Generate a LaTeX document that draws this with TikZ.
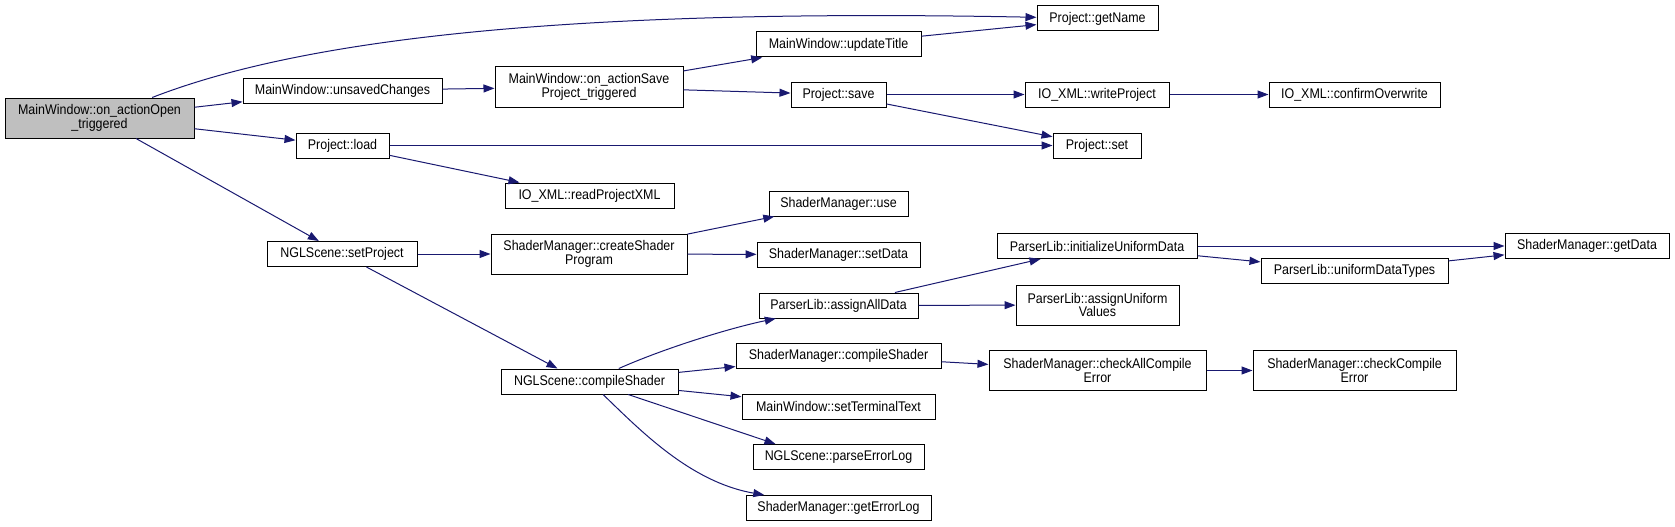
\documentclass[tikz,border=0pt]{standalone}
\usepackage{fontspec}
\setmainfont{Liberation Sans}[FakeStretch=0.89]
\usepackage{tikz}
\usetikzlibrary{arrows.meta}
\definecolor{edgeblue}{HTML}{191970}

\begin{document}
\begin{tikzpicture}[x=1pt, y=-1pt,
    fn/.style={draw=black, fill=white, line width=1pt, minimum height=25pt, inner sep=0pt,
        align=center, font=\fontsize{14}{13.5}\selectfont},
    fn2/.style={fn, minimum height=40pt},
    call/.style={draw=edgeblue, line width=1pt, -{Triangle[length=11pt, width=8pt]}}]
    \useasboundingbox (0,0) rectangle (1675,527);

    \node[fn2, fill=black!25, minimum width=189pt] (open) at (99.5,118) {MainWindow::on\_actionOpen\\\_triggered};
    \node[fn, minimum width=199pt] (unsaved) at (342.5,90.5) {MainWindow::unsavedChanges};
    \node[fn, minimum width=93pt] (load) at (342.5,145.5) {Project::load};
    \node[fn, minimum width=150pt] (setproject) at (342,254) {NGLScene::setProject};

    \node[fn2, minimum width=188pt] (saveproject) at (589,87) {MainWindow::on\_actionSave\\Project\_triggered};
    \node[fn, minimum width=169pt] (readxml) at (589.5,195.5) {IO\_XML::readProjectXML};
    \node[fn2, minimum width=196pt] (createshader) at (589,254) {ShaderManager::createShader\\Program};
    \node[fn, minimum width=177pt] (nglcompile) at (589.5,381.5) {NGLScene::compileShader};

    \node[fn, minimum width=165pt] (title) at (838.5,44.5) {MainWindow::updateTitle};
    \node[fn, minimum width=95pt] (save) at (838.5,94.5) {Project::save};
    \node[fn, minimum width=139pt] (use) at (838.5,203.5) {ShaderManager::use};
    \node[fn, minimum width=163pt] (setdata) at (838.5,254.5) {ShaderManager::setData};
    \node[fn, minimum width=159pt] (assignall) at (838.5,305.5) {ParserLib::assignAllData};
    \node[fn, minimum width=205pt] (smcompile) at (838.5,356) {ShaderManager::compileShader};
    \node[fn, minimum width=193pt] (terminal) at (838.5,406.5) {MainWindow::setTerminalText};
    \node[fn, minimum width=171pt] (parselog) at (838.5,457) {NGLScene::parseErrorLog};
    \node[fn, minimum width=185pt] (errorlog) at (838.5,508) {ShaderManager::getErrorLog};

    \node[fn, minimum width=121pt] (getname) at (1097.5,18.5) {Project::getName};
    \node[fn, minimum width=144pt] (writeproject) at (1097,94.5) {IO\_XML::writeProject};
    \node[fn, minimum width=88pt] (set) at (1097,145.5) {Project::set};
    \node[fn, minimum width=200pt] (inituniform) at (1097,246) {ParserLib::initializeUniformData};
    \node[fn2, minimum width=163pt] (assignuniform) at (1097.5,305) {ParserLib::assignUniform\\Values};
    \node[fn2, minimum width=217pt] (checkall) at (1097.5,370.5) {ShaderManager::checkAllCompile\\Error};

    \node[fn, minimum width=171pt] (confirm) at (1354.5,94.5) {IO\_XML::confirmOverwrite};
    \node[fn, minimum width=187pt] (datatypes) at (1354.5,271) {ParserLib::uniformDataTypes};
    \node[fn2, minimum width=203pt] (checkcompile) at (1354.5,370.5) {ShaderManager::checkCompile\\Error};
    \node[fn, minimum width=164pt] (getdata) at (1587,246) {ShaderManager::getData};

    \draw[call] (open) .. controls (300,40) and (560,8) .. (getname);
    \draw[call] (open) -- (unsaved);
    \draw[call] (open) -- (load);
    \draw[call] (open) -- (setproject);
    \draw[call] (unsaved) -- (saveproject);
    \draw[call] (load) -- (set);
    \draw[call] (load) -- ([xshift=-70pt]readxml.north);
    \draw[call] (saveproject) -- (title);
    \draw[call] (saveproject) -- (save);
    \draw[call] (title) -- (getname);
    \draw[call] (save) -- (writeproject);
    \draw[call] (save) -- (set);
    \draw[call] (writeproject) -- (confirm);
    \draw[call] (setproject) -- (createshader);
    \draw[call] (setproject) -- ([xshift=-32pt]nglcompile.north);
    \draw[call] (createshader) -- (use);
    \draw[call] (createshader) -- (setdata);
    \draw[call] (nglcompile) .. controls (665,348) and (730,328) .. (assignall);
    \draw[call] (nglcompile) -- (smcompile);
    \draw[call] (nglcompile) -- (terminal);
    \draw[call] (nglcompile) -- ([xshift=-63pt]parselog.north);
    \draw[call] (nglcompile) .. controls (640,430) and (690,482) .. (errorlog);
    \draw[call] (assignall) -- (inituniform);
    \draw[call] (assignall) -- (assignuniform);
    \draw[call] (smcompile) -- (checkall);
    \draw[call] (checkall) -- (checkcompile);
    \draw[call] (inituniform) -- (getdata);
    \draw[call] (inituniform) -- (datatypes);
    \draw[call] (datatypes) -- (getdata);
\end{tikzpicture}
\end{document}
